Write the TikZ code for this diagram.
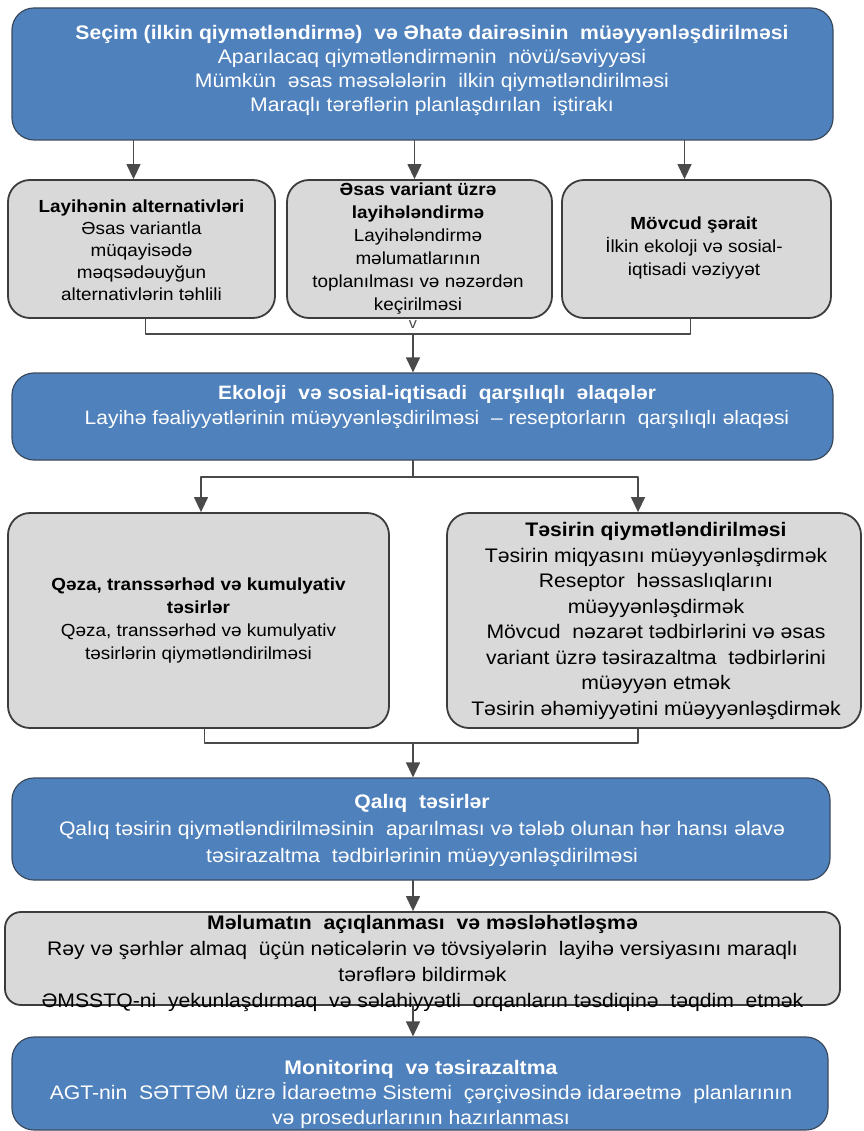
\documentclass[tikz,border=0pt]{standalone}
\usepackage{fontspec}
\setmainfont{Liberation Sans}[FakeStretch=1.08]
\usetikzlibrary{arrows.meta}

\definecolor{boxblue}{HTML}{4F81BD}
\definecolor{blueline}{HTML}{3A4A5E}
\definecolor{boxgrey}{HTML}{D9D9D9}
\definecolor{greyline}{HTML}{3C3C3C}
\definecolor{linkgrey}{HTML}{4A4A4A}

\tikzset{
  bluebox/.style={draw=blueline,fill=boxblue,rounded corners=22pt,line width=1.2pt},
  greybox/.style={draw=greyline,fill=boxgrey,rounded corners=22pt,line width=1.8pt},
  bluetext/.style={text=white,align=center,inner sep=0pt},
  greytext/.style={text=black,align=center,inner sep=0pt},
  link/.style={draw=linkgrey,line width=1.3pt}
}

\begin{document}
\begin{tikzpicture}[line cap=round,line join=round,>={Triangle[width=14pt,length=15pt]},x=1pt,y=-1pt]
\useasboundingbox (0,0) rectangle (863,1131);
% boxes
\node[bluebox,minimum width=821pt,minimum height=132pt] (scoping) at (422.5,74) {};
\node[greybox,minimum width=267pt,minimum height=138pt] (alt) at (141.5,249) {};
\node[greybox,minimum width=265pt,minimum height=138pt] (design) at (419.5,249) {};
\node[greybox,minimum width=269pt,minimum height=138pt] (cond) at (696.5,249) {};
\node[bluebox,minimum width=821pt,minimum height=87pt] (relations) at (422.5,416.5) {};
\node[greybox,minimum width=381pt,minimum height=215pt] (accident) at (198.5,620.5) {};
\node[greybox,minimum width=414pt,minimum height=215pt] (impact) at (654,620.5) {};
\node[bluebox,minimum width=818pt,minimum height=102pt] (residual) at (421,829) {};
\node[greybox,rounded corners=16pt,minimum width=835pt,minimum height=93pt] (disclosure) at (422.5,958.5) {};
\node[bluebox,minimum width=816pt,minimum height=93pt] (monitor) at (420,1083.5) {};
% texts
\node[bluetext,font=\fontsize{19.6}{24}\selectfont] (scoping text) at (432,70) {\textbf{Seçim (ilkin qiymətləndirmə) \ və Əhatə dairəsinin \ müəyyənləşdirilməsi}\\
  Aparılacaq qiymətləndirmənin \ növü/səviyyəsi\\
  Mümkün \ əsas məsələlərin \ ilkin qiymətləndirilməsi\\
  Maraqlı tərəflərin planlaşdırılan \ iştirakı};
\node[greytext,font=\fontsize{17.5}{22}\selectfont] (alt text) at (141.5,250) {\textbf{Layihənin alternativləri}\\
  Əsas variantla\\ müqayisədə\\ məqsədəuyğun\\ alternativlərin təhlili};
\node[greytext,font=\fontsize{17.5}{23}\selectfont] (design text) at (418,249) {\textbf{Əsas variant üzrə}\\ \textbf{layihələndirmə}\\
  Layihələndirmə\\ məlumatlarının\\ toplanılması və nəzərdən\\ keçirilməsi};
\node[greytext,font=\fontsize{17.5}{23}\selectfont] (cond text) at (694,248) {\textbf{Mövcud şərait}\\
  İlkin ekoloji və sosial-\\ iqtisadi vəziyyət};
\node[bluetext,font=\fontsize{19.4}{25}\selectfont] (relations text) at (437,407) {\textbf{Ekoloji \ və sosial-iqtisadi \ qarşılıqlı \ əlaqələr}\\
  Layihə fəaliyyətlərinin müəyyənləşdirilməsi \ -- reseptorların \ qarşılıqlı əlaqəsi};
\node[greytext,font=\fontsize{17.5}{23}\selectfont] (accident text) at (198.5,620) {\textbf{Qəza, transsərhəd və kumulyativ}\\ \textbf{təsirlər}\\
  Qəza, transsərhəd və kumulyativ\\ təsirlərin qiymətləndirilməsi};
\node[greytext,font=\fontsize{19.6}{25.5}\selectfont] (impact text) at (656,621) {\textbf{Təsirin qiymətləndirilməsi}\\
  Təsirin miqyasını müəyyənləşdirmək\\ Reseptor \ həssaslıqlarını\\ müəyyənləşdirmək\\
  Mövcud \ nəzarət tədbirlərini və əsas\\ variant üzrə təsirazaltma \ tədbirlərini\\ müəyyən etmək\\
  Təsirin əhəmiyyətini müəyyənləşdirmək};
\node[bluetext,font=\fontsize{19.6}{27}\selectfont] (residual text) at (422,830) {\textbf{Qalıq \ təsirlər}\\
  Qalıq təsirin qiymətləndirilməsinin \ aparılması və tələb olunan hər hansı əlavə\\
  təsirazaltma \ tədbirlərinin müəyyənləşdirilməsi};
\node[greytext,font=\fontsize{19.6}{26}\selectfont] (disclosure text) at (422.5,963) {\textbf{Məlumatın \ açıqlanması \ və məsləhətləşmə}\\
  Rəy və şərhlər almaq \ üçün nəticələrin və tövsiyələrin \ layihə versiyasını maraqlı\\
  tərəflərə bildirmək\\
  ƏMSSTQ-ni \ yekunlaşdırmaq \ və səlahiyyətli \ orqanların təsdiqinə \ təqdim \ etmək};
\node[bluetext,font=\fontsize{19.6}{25}\selectfont] (monitor text) at (421,1094) {\textbf{Monitorinq \ və təsirazaltma}\\
  AGT-nin \ SƏTTƏM üzrə İdarəetmə Sistemi \ çərçivəsində idarəetmə \ planlarının\\
  və prosedurlarının hazırlanması};
% connectors
\draw[link,->] ([xshift=-8pt]alt.north |- scoping.south) -- ([xshift=-8pt]alt.north);
\draw[link,->] ([xshift=-5pt]design.north |- scoping.south) -- ([xshift=-5pt]design.north);
\draw[link,->] ([xshift=-12pt]cond.north |- scoping.south) -- ([xshift=-12pt]cond.north);
\coordinate (join) at (413,334);
\draw[link] ([xshift=4pt]alt.south) |- (join) -| ([xshift=-6pt]cond.south);
\node[text=linkgrey,font=\fontsize{15}{15}\selectfont,inner sep=0pt] (tick) at (413,325) {v};
\draw[link,->] (join) -- (join |- relations.north);
\coordinate (split) at (413,477);
\draw[link] (split |- relations.south) -- (split);
\draw[link,->] (split) -| ([xshift=2.5pt]accident.north);
\draw[link,->] (split) -| ([xshift=-16pt]impact.north);
\coordinate (merge) at (413,743);
\draw[link] ([xshift=6pt]accident.south) |- (merge) -| ([xshift=-16pt]impact.south);
\draw[link,->] (merge) -- (merge |- residual.north);
\draw[link,->] (merge |- residual.south) -- (merge |- disclosure.north);
\draw[link,->] (merge |- disclosure.south) -- (merge |- monitor.north);
\end{tikzpicture}
\end{document}
